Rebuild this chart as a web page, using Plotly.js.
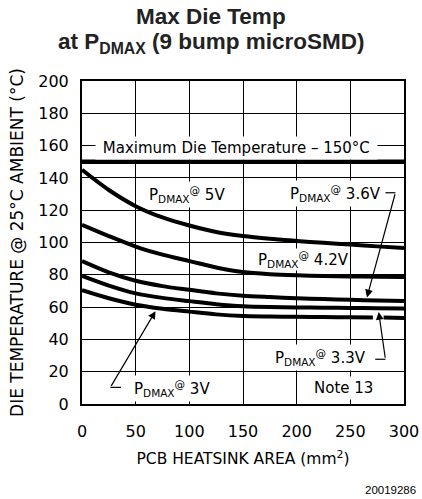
<!DOCTYPE html>
<html>
<head>
<meta charset="utf-8">
<script src="https://cdn.plot.ly/plotly-3.0.1.min.js"></script>
<style>html,body{margin:0;padding:0;background:#fff;}#chart{width:422px;height:499px;}</style>
</head>
<body>
<div id="chart"></div>
<script>
// ---- data ----
const areaX = [0, 25, 50, 75, 100, 125, 150, 175, 200, 225, 250, 275, 300];
const temp5V   = [145, 132.5, 122.5, 115.5, 110.5, 106.5, 104, 102.3, 101, 99.8, 98.8, 97.6, 96.6];
const temp42V  = [111, 104, 97.5, 92.5, 88.5, 84.5, 81.7, 80.4, 79.7, 79.3, 79, 78.8, 78.6];
const temp36V  = [88.5, 81.5, 76.3, 73, 70.7, 68.5, 67, 66.2, 65.5, 65, 64.5, 64.1, 63.8];
const temp33V  = [79.3, 73.3, 68.5, 65.7, 63.7, 61.8, 60.5, 60, 59.8, 59.6, 59.5, 59.3, 59.2];
const area3V   = [0, 25, 50, 75, 100, 125, 150, 175, 200, 225, 250, 271, 276, 281, 300];
const temp3V   = [70.5, 65.5, 61.5, 59, 57.2, 55.5, 54.5, 54.2, 54, 53.8, 53.7, 53.6, null, 53.5, 53.3];
const maxTempX = [0, 300];
const maxTempY = [150, 150];
const xTicks = [0, 50, 100, 150, 200, 250, 300];
const yTicks = [0, 20, 40, 60, 80, 100, 120, 140, 160, 180, 200];

const lblFont = {family: 'DejaVu Sans', size: 15, color: '#000'};
const lineStyle = {color: '#000', width: 4, shape: 'spline', smoothing: 0.8};

const traces = [
  {x: maxTempX, y: maxTempY, mode: 'lines', line: {color: '#000', width: 4.5}},
  {x: areaX, y: temp5V, mode: 'lines', line: lineStyle},
  {x: areaX, y: temp42V, mode: 'lines', line: lineStyle},
  {x: areaX, y: temp36V, mode: 'lines', line: lineStyle},
  {x: areaX, y: temp33V, mode: 'lines', line: lineStyle},
  {x: area3V, y: temp3V, mode: 'lines', connectgaps: false, line: lineStyle}
];

function lbl(text, x, y, pad) {
  return {text: text, x: x, y: y, xref: 'x', yref: 'y', showarrow: false,
          font: lblFont, bgcolor: '#fff', borderpad: pad === undefined ? 2 : pad};
}
function arr(tipX, tipY, tailX, tailY) {
  return {text: '', x: tipX, y: tipY, ax: tailX, ay: tailY, xref: 'x', yref: 'y',
          axref: 'x', ayref: 'y', showarrow: true, arrowhead: 2, arrowsize: 1.3,
          arrowwidth: 1.2, arrowcolor: '#000', standoff: 0, startstandoff: 0};
}

const titleFont = {family: 'Liberation Sans, Arial', size: 22.5, color: '#222'};
const annotations = [
  {text: '<b>Max Die Temp</b>', xref: 'paper', yref: 'paper', x: 0.4006, y: 1.2012,
   xanchor: 'center', yanchor: 'middle', showarrow: false, font: titleFont},
  {text: '<b>at P<sub>DMAX</sub> (9 bump microSMD)</b>', xref: 'paper', yref: 'paper', x: 0.4006, y: 1.118,
   xanchor: 'center', yanchor: 'middle', showarrow: false, font: titleFont},
  lbl('\u00A0Maximum Die Temperature \u2013 150\u00B0C\u00A0', 144.4, 158.8, 2),
  lbl('P<sub>DMAX</sub><sup>@</sup> 5V', 98, 130),
  lbl('P<sub>DMAX</sub><sup>@</sup> 3.6V', 236, 130.5),
  lbl('P<sub>DMAX</sub><sup>@</sup> 4.2V', 206.5, 89.5, 0),
  lbl('P<sub>DMAX</sub><sup>@</sup> 3.3V', 222, 29),
  lbl('P<sub>DMAX</sub><sup>@</sup> 3V', 84, 9.8),
  lbl('Note 13', 244, 10.2),
  arr(265.5, 66, 292, 130.8),
  arr(276.4, 57, 282.7, 27.7),
  arr(68.5, 57.5, 26.4, 10.3),
  {text: '20019286', xref: 'paper', yref: 'paper', x: 1.043, y: -0.266,
   xanchor: 'right', yanchor: 'middle', showarrow: false,
   font: {family: 'Liberation Sans, Arial', size: 11.5, color: '#000'}}
];

const stub = (x0, x1, y) => ({type: 'line', xref: 'x', yref: 'y', x0: x0, x1: x1, y0: y, y1: y,
  line: {color: '#000', width: 1.2}, layer: 'above'});
const shapes = [stub(282.7, 292, 130.8), stub(273.2, 282.7, 27.7), stub(26.4, 36.4, 10.3)];

const layout = {
  width: 422, height: 499,
  margin: {l: 82, r: 18, t: 81, b: 95, pad: 0},
  paper_bgcolor: '#fff', plot_bgcolor: '#fff',
  showlegend: false,
  xaxis: {
    range: [0, 300], tickvals: xTicks, ticktext: xTicks.map(String),
    showgrid: true, gridcolor: '#000', gridwidth: 1, zeroline: false,
    showline: true, mirror: true, linecolor: '#000', linewidth: 2,
    ticks: '', ticklabelstandoff: 12,
    tickfont: {family: 'DejaVu Sans', size: 16, color: '#000'},
    title: {text: 'PCB HEATSINK AREA (mm<sup>2</sup>)\u00A0\u00A0\u00A0', standoff: 13,
            font: {family: 'DejaVu Sans', size: 15.5, color: '#000'}},
    automargin: false, fixedrange: true
  },
  yaxis: {
    range: [0, 200], tickvals: yTicks, ticktext: yTicks.map(String),
    showgrid: true, gridcolor: '#000', gridwidth: 1, zeroline: false,
    showline: true, mirror: true, linecolor: '#000', linewidth: 2,
    ticks: '', ticklabelstandoff: 8,
    tickfont: {family: 'DejaVu Sans', size: 16, color: '#000'},
    title: {text: 'DIE TEMPERATURE @ 25\u00B0C AMBIENT (\u00B0C)', standoff: 10,
            font: {family: 'DejaVu Sans', size: 17, color: '#000'}},
    automargin: false, fixedrange: true
  },
  annotations: annotations,
  shapes: shapes
};

Plotly.newPlot('chart', traces, layout, {staticPlot: true, displayModeBar: false});
</script>
</body>
</html>
